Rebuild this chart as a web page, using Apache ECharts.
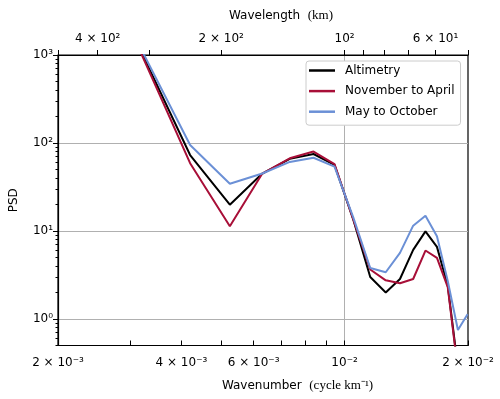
<!DOCTYPE html>
<html>
<head>
<meta charset="utf-8">
<script src="https://cdn.jsdelivr.net/npm/echarts@6/dist/echarts.min.js"></script>
<style>html,body{margin:0;padding:0;background:#fff;}#c{width:500px;height:399px;}</style>
</head>
<body>
<div id="c"></div>
<script>
// ---- data ----
const wavenumber = [3.15e-3, 4.2e-3, 5.25e-3, 6.3e-3, 7.35e-3, 8.4e-3, 9.45e-3, 1.05e-2, 1.155e-2, 1.26e-2, 1.365e-2, 1.47e-2, 1.575e-2, 1.68e-2, 1.785e-2, 1.89e-2, 1.995e-2];
const altimetry = [1240, 73, 19.9, 45, 66, 75, 56.5, 13.5, 3.0, 2.0, 2.85, 6.1, 9.9, 6.6, 2.4, 0.28, 0.2];
const novApr    = [1190, 59, 11.3, 45, 67, 80, 57.5, 13.5, 3.65, 2.75, 2.55, 2.85, 6.0, 4.95, 2.3, 0.26, 0.2];
const mayOct    = [1310, 95, 34.4, 45, 61, 68, 54, 14.3, 3.8, 3.4, 5.65, 11.5, 14.9, 8.7, 2.7, 0.75, 1.13];
const seriesNames = ['Altimetry', 'November to April', 'May to October'];

const xTickValues = [2e-3, 3e-3, 4e-3, 5e-3, 6e-3, 7e-3, 8e-3, 9e-3, 1e-2, 2e-2];
const xLabelValues = [2e-3, 4e-3, 6e-3, 1e-2, 2e-2];
const xLabelTexts = ['2 × 10⁻³', '4 × 10⁻³', '6 × 10⁻³', '10⁻²', '2 × 10⁻²'];
const topWavelengthTicks = [500, 400, 300, 200, 100, 90, 80, 70, 60, 50];
const topLabelWavelengths = [400, 200, 100, 60];
const topLabelTexts = ['4 × 10²', '2 × 10²', '10²', '6 × 10¹'];
const yMajorValues = [1, 10, 100, 1000];
const yLabelTexts = ['10⁰', '10¹', '10²', '10³'];
const yMinorValues = [0.5, 0.6, 0.7, 0.8, 0.9, 2, 3, 4, 5, 6, 7, 8, 9, 20, 30, 40, 50, 60, 70, 80, 90, 200, 300, 400, 500, 600, 700, 800, 900];

const colors = ['#000000', '#a80f38', '#6b90d6'];

function lookup(vals, texts, v) {
  for (let i = 0; i < vals.length; i++) {
    if (Math.abs(Math.log10(vals[i]) - Math.log10(v)) < 1e-6) return texts[i];
  }
  return '';
}
const topLabelValues = topLabelWavelengths.map(w => 1 / w);
const topTickValues = topWavelengthTicks.map(w => 1 / w);

const chart = echarts.init(document.getElementById('c'), null, {renderer: 'canvas'});
const font = 'DejaVu Sans';
const serif = 'Liberation Serif';
const series = [altimetry, novApr, mayOct].map((arr, i) => ({
  name: seriesNames[i],
  type: 'line',
  data: wavenumber.map((k, j) => [k, arr[j]]),
  showSymbol: false,
  symbol: 'none',
  lineStyle: {width: 2, color: colors[i]},
  itemStyle: {color: colors[i]},
  xAxisIndex: 0, yAxisIndex: 0,
  clip: true,
  z: 3
}));

chart.setOption({
  animation: false,
  backgroundColor: '#fff',
  textStyle: {fontFamily: font},
  grid: {left: 56.5, right: 32, top: 55, bottom: 53.5, show: true, borderColor: '#000', borderWidth: 1.2, backgroundColor: 'transparent'},
  legend: {
    data: seriesNames,
    orient: 'vertical',
    left: 306, top: 61,
    padding: [3.5, 6, 7.5, 3],
    itemGap: 8.6,
    itemWidth: 26, itemHeight: 2.5,
    icon: 'rect',
    backgroundColor: '#fff',
    borderColor: '#cccccc', borderWidth: 1, borderRadius: 3,
    textStyle: {fontFamily: font, fontSize: 12, color: '#000', padding: [0, 0, 0, 5]}
  },
  xAxis: [
    {
      type: 'log', position: 'bottom', min: 2e-3, max: 2e-2,
      name: '{a|Wavenumber}  {b|(cycle km⁻¹)}',
      nameLocation: 'middle', nameGap: 34,
      nameTextStyle: {padding: [0, 0, 0, 69], rich: {a: {fontFamily: font, fontSize: 12, color: '#000'}, b: {fontFamily: serif, fontSize: 13, color: '#000'}}},
      axisLine: {show: true, lineStyle: {color: '#000', width: 1.2}},
      axisTick: {show: true, inside: true, length: 5, customValues: xTickValues, lineStyle: {color: '#000'}},
      axisLabel: {show: true, customValues: xLabelValues, margin: 11, fontSize: 12, color: '#000', fontFamily: font,
        formatter: v => lookup(xLabelValues, xLabelTexts, v)},
      splitLine: {show: false}, minorTick: {show: false}
    },
    {
      type: 'log', position: 'top', min: 2e-3, max: 2e-2,
      name: '{a|Wavelength}  {b|(km)}',
      nameLocation: 'middle', nameGap: 33,
      nameTextStyle: {padding: [0, 0, 0, 36], rich: {a: {fontFamily: font, fontSize: 12, color: '#000'}, b: {fontFamily: serif, fontSize: 13, color: '#000'}}},
      axisLine: {show: true, lineStyle: {color: '#000', width: 1.2}},
      axisTick: {show: true, inside: false, length: 5, customValues: topTickValues, lineStyle: {color: '#000'}},
      axisLabel: {show: true, customValues: topLabelValues, margin: 10, fontSize: 12, color: '#000', fontFamily: font,
        formatter: v => lookup(topLabelValues, topLabelTexts, v)},
      splitLine: {show: false}
    },
    {
      type: 'log', position: 'bottom', min: 2e-3, max: 2e-2,
      axisLine: {show: false}, axisLabel: {show: false},
      axisTick: {show: false, customValues: [1e-2]},
      splitLine: {show: true, lineStyle: {color: '#b0b0b0', width: 1}}
    }
  ],
  yAxis: [
    {
      type: 'log', min: 0.5, max: 1000, position: 'left',
      name: 'PSD', nameLocation: 'middle', nameGap: 38,
      nameTextStyle: {fontFamily: font, fontSize: 12, color: '#000'},
      axisLine: {show: true, lineStyle: {color: '#000', width: 1.2}},
      axisTick: {show: true, inside: false, length: 5, customValues: yMajorValues, lineStyle: {color: '#000'}},
      axisLabel: {show: true, customValues: yMajorValues, margin: 5, fontSize: 12, color: '#000', fontFamily: font,
        formatter: v => lookup(yMajorValues, yLabelTexts, v)},
      splitLine: {show: true, lineStyle: {color: '#b0b0b0', width: 1}}
    },
    {
      type: 'log', min: 0.5, max: 1000, position: 'left',
      axisLine: {show: false}, axisLabel: {show: false},
      axisTick: {show: true, inside: false, length: 2.5, customValues: yMinorValues, lineStyle: {color: '#000'}},
      splitLine: {show: false}
    }
  ],
  series: series
});
</script>
</body>
</html>
